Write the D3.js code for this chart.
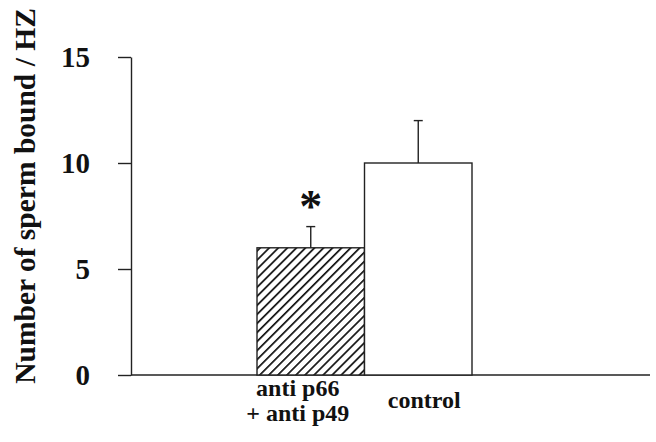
<!DOCTYPE html>
<html lang="en">
<head>
<meta charset="UTF-8">
<title>Sperm bound to HZ</title>
<style>
  body { margin: 0; background: #fff; }
  svg text { font-family: "Liberation Serif", "Times New Roman", serif; font-weight: bold; fill: #111; }
</style>
</head>
<body>
<svg id="chart" width="656" height="442"></svg>
<script src="https://d3js.org/d3.v7.min.js"></script>
<script>
// data
const categories = ["anti", "control"];
const labels = [["anti p66", "+ anti p49"], ["control"]];
const means = [6, 10];
const errors = [1, 2];
const significant = [true, false];
const yTicks = [0, 5, 10, 15];

const svg = d3.select("#chart");

const y = d3.scaleLinear().domain([0, 15]).range([375, 57]);
const x = d3.scaleBand().domain(categories).range([257, 472]).padding(0);
const axisX = 131, axisEnd = 650;

// hatch pattern for the treated bar
const defs = svg.append("defs");
const pat = defs.append("pattern")
    .attr("id", "hatch")
    .attr("patternUnits", "userSpaceOnUse")
    .attr("width", 6.4).attr("height", 6.4)
    .attr("patternTransform", "rotate(45)");
pat.append("rect").attr("width", 6.4).attr("height", 6.4).attr("fill", "#fff");
pat.append("line")
    .attr("x1", 0).attr("y1", 0).attr("x2", 0).attr("y2", 6.4)
    .attr("stroke", "#111").attr("stroke-width", 3.4);

// y axis
const yAxis = svg.append("g")
    .attr("transform", `translate(${axisX},0)`)
    .call(d3.axisLeft(y).tickValues(yTicks).tickSize(13).tickSizeOuter(0).tickPadding(28));
yAxis.select(".domain").attr("stroke", "#222").attr("stroke-width", 1.4);
yAxis.selectAll(".tick line").attr("stroke", "#222").attr("stroke-width", 1.4);
yAxis.selectAll(".tick text")
    .attr("font-size", 29)
    .attr("font-family", "Liberation Serif, serif")
    .attr("font-weight", "bold")
    .attr("fill", "#111")
    .attr("dy", "0.34em");

// x axis baseline
svg.append("line")
    .attr("x1", axisX).attr("x2", axisEnd)
    .attr("y1", y(0)).attr("y2", y(0))
    .attr("stroke", "#222").attr("stroke-width", 1.4);

// bars
svg.selectAll("rect.bar")
  .data(categories)
  .enter().append("rect")
    .attr("class", "bar")
    .attr("x", d => x(d))
    .attr("width", x.bandwidth())
    .attr("y", (d, i) => y(means[i]))
    .attr("height", (d, i) => y(0) - y(means[i]))
    .attr("fill", (d, i) => i === 0 ? "url(#hatch)" : "#fff")
    .attr("stroke", "#222")
    .attr("stroke-width", 1.4);

// error bars (upper only)
const eb = svg.selectAll("g.err")
  .data(categories)
  .enter().append("g")
    .attr("class", "err");
eb.append("line")
    .attr("x1", d => x(d) + x.bandwidth() / 2)
    .attr("x2", d => x(d) + x.bandwidth() / 2)
    .attr("y1", (d, i) => y(means[i]))
    .attr("y2", (d, i) => y(means[i] + errors[i]))
    .attr("stroke", "#222").attr("stroke-width", 1.4);
eb.append("line")
    .attr("x1", d => x(d) + x.bandwidth() / 2 - 4.5)
    .attr("x2", d => x(d) + x.bandwidth() / 2 + 4.5)
    .attr("y1", (d, i) => y(means[i] + errors[i]))
    .attr("y2", (d, i) => y(means[i] + errors[i]))
    .attr("stroke", "#222").attr("stroke-width", 1.4);

// significance asterisk
svg.selectAll("text.star")
  .data(categories.filter((d, i) => significant[i]))
  .enter().append("text")
    .attr("class", "star")
    .attr("x", d => x(d) + x.bandwidth() / 2)
    .attr("y", d => y(means[categories.indexOf(d)] + errors[categories.indexOf(d)]) - 5)
    .attr("text-anchor", "middle")
    .attr("font-size", 46)
    .text("*");

// category labels
const labelShift = [-13, 6];
const lab = svg.selectAll("text.cat")
  .data(categories)
  .enter().append("text")
    .attr("class", "cat")
    .attr("text-anchor", "middle")
    .attr("font-size", 24)
    .attr("x", (d, i) => x(d) + x.bandwidth() / 2 + labelShift[i])
    .attr("y", (d, i) => labels[i].length > 1 ? 396 : 408);
lab.selectAll("tspan")
  .data((d, i) => labels[i])
  .enter().append("tspan")
    .attr("x", function() { return this.parentNode.getAttribute("x"); })
    .attr("dy", (d, j) => j === 0 ? 0 : 25)
    .text(d => d);

// y axis title
svg.append("text")
    .attr("transform", "translate(35,196) rotate(-90)")
    .attr("text-anchor", "middle")
    .attr("font-size", 29.5)
    .text("Number of sperm bound / HZ");
</script>
</body>
</html>
